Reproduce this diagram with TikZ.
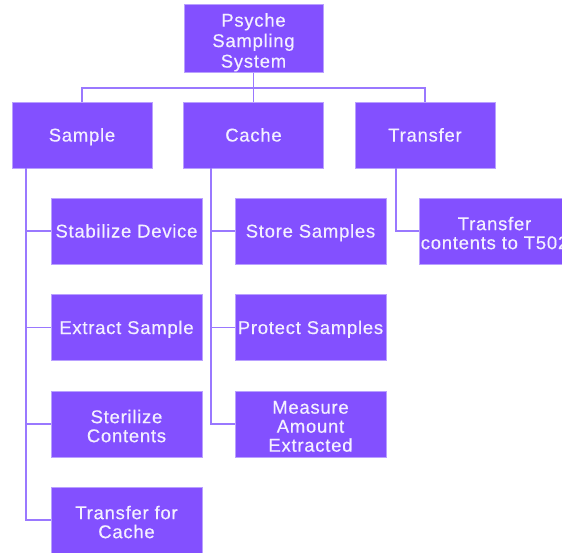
\documentclass[tikz,border=0pt]{standalone}
\usepackage{fontspec}
\setmainfont{Liberation Sans}[LetterSpace=4,FakeBold=0.35]
\definecolor{boxfill}{HTML}{8350FF}
\definecolor{boxline}{HTML}{B9A0FF}
\definecolor{linkcol}{HTML}{9A78FF}
\definecolor{txt}{HTML}{F4F0FF}
\tikzset{
  box/.style={draw=boxline, line width=0.8pt, fill=boxfill, text=txt, align=center,
    inner sep=1pt, font=\fontsize{18.5}{19}\selectfont},
  single/.style={text height=15pt, text depth=2pt},
  topbox/.style={box, minimum width=139pt, minimum height=67pt},
  lvbox/.style={box, single, minimum width=140pt, minimum height=66pt},
  leafbox/.style={box, minimum width=151pt, minimum height=66pt},
  link/.style={draw=linkcol, line width=1.3pt}
}
\newcommand{\lowA}{\rule{0pt}{21pt}}
\newcommand{\lowB}{\rule{0pt}{17.5pt}}
\begin{document}
\begin{tikzpicture}[x=1pt,y=1pt]
\useasboundingbox (0,0) rectangle (562,-552);
\clip (0,0) rectangle (562,-552);
\fill[white] (0,0) rectangle (562,-552);
% top
\node[topbox] (top) at (253.5,-38.5) {\lowA Psyche\\[1.5pt]Sampling\\[1.5pt]System};
% level 1
\node[lvbox] (sample) at (82,-135) {Sample};
\node[lvbox] (cache) at (253.5,-135) {Cache};
\node[lvbox] (transfer) at (425,-135) {Transfer};
% sample children
\node[leafbox, single] (s1) at (126.5,-231) {Stabilize Device};
\node[leafbox, single] (s2) at (126.5,-327.5) {Extract Sample};
\node[leafbox] (s3) at (126.5,-424) {\lowB Sterilize\\Contents};
\node[leafbox] (s4) at (126.5,-520) {\lowB Transfer for\\Cache};
% cache children
\node[leafbox, single] (c1) at (310.5,-231) {Store Samples};
\node[leafbox, single] (c2) at (310.5,-327.5) {Protect Samples};
\node[leafbox] (c3) at (310.5,-424) {\lowB Measure\\Amount\\Extracted};
% transfer child
\node[leafbox] (t1) at (494.5,-231) {\lowB Transfer\\contents to T502};
% connectors top
\draw[link] (top.south) -- (cache.north);
\coordinate (busL) at (82,-88);
\coordinate (busR) at (425,-88);
\draw[link] (sample.north) -- (busL) -- (busR) -- (transfer.north);
% spines
\coordinate (ss) at (26,-168);
\coordinate (cs) at (211,-168);
\coordinate (ts) at (396,-168);
\draw[link] (ss) |- (s1.west);
\draw[link] (ss) |- (s2.west);
\draw[link] (ss) |- (s3.west);
\draw[link] (ss) |- (s4.west);
\draw[link] (cs) |- (c1.west);
\draw[link] (cs) |- (c2.west);
\draw[link] (cs) |- (c3.west);
\draw[link] (ts) |- (t1.west);
\end{tikzpicture}
\end{document}
